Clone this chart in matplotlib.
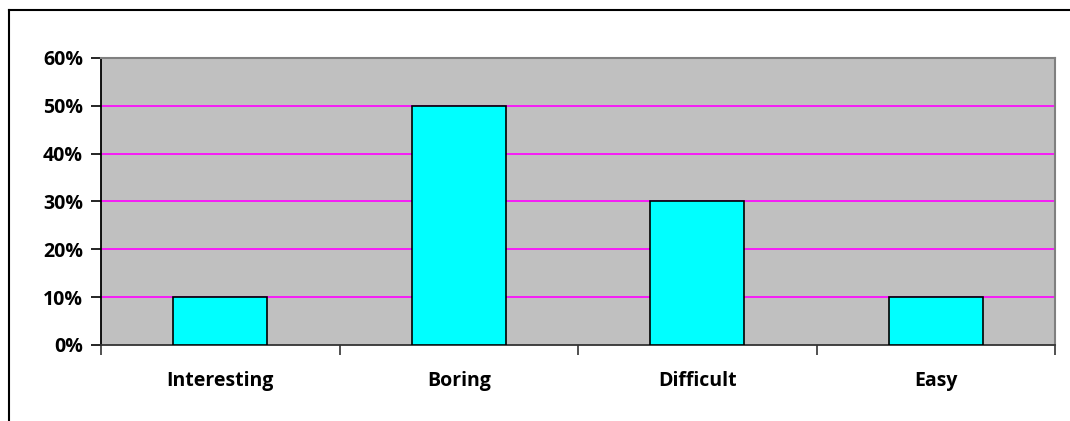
import numpy as np
import matplotlib
matplotlib.use("Agg")
import matplotlib.pyplot as plt
from matplotlib.lines import Line2D
from matplotlib.ticker import PercentFormatter

categories = ["Interesting", "Boring", "Difficult", "Easy"]
values = [10, 50, 30, 10]
yticks = [0, 10, 20, 30, 40, 50, 60]

plt.rcParams['font.family'] = ['Open Sans', 'DejaVu Sans']

W, H = 1070, 421
fig = plt.figure(figsize=(W/100, H/100), dpi=100)
ax = fig.add_axes([101/W, 1-345/H, (1055-101)/W, (345-58)/H])
ax.set_facecolor("#C0C0C0")

x = np.arange(len(categories))
ax.bar(x, values, width=0.395, color="#00FFFF", edgecolor="black", linewidth=1.2, zorder=3)

ax.set_xlim(-0.5, len(categories) - 0.5)
ax.set_ylim(0, 60)
ax.set_yticks(yticks)
ax.yaxis.set_major_formatter(PercentFormatter(decimals=0))
for t in yticks[1:-1]:
    ax.axhline(t, color="#FF00FF", linewidth=1.2, zorder=1)

# category boundary ticks below, labels centred
ax.set_xticks(np.arange(-0.5, len(categories)), minor=False)
ax.set_xticklabels([])
ax.set_xticks(x, minor=True)
ax.set_xticklabels(categories, minor=True)
ax.tick_params(axis="x", which="major", direction="out", length=7, width=1.2, color="#333333")
ax.tick_params(axis="x", which="minor", length=0, pad=19, labelsize=14)
ax.tick_params(axis="y", direction="out", length=7, width=1.2, labelsize=14, pad=6)
for lab in ax.get_xticklabels(minor=True) + ax.get_yticklabels():
    lab.set_fontweight("bold")

ax.spines["left"].set_color("black")
ax.spines["left"].set_linewidth(1.3)
ax.spines["bottom"].set_color("#333333")
ax.spines["bottom"].set_linewidth(1.3)
ax.spines["top"].set_color("#808080")
ax.spines["right"].set_color("#808080")
ax.spines["top"].set_linewidth(1.5)
ax.spines["right"].set_linewidth(1.5)

# outer chart border (top and left visible)
fig.add_artist(Line2D([9/W, 1], [1-10/H, 1-10/H], color="black", linewidth=1.5))
fig.add_artist(Line2D([9/W, 9/W], [0, 1-10/H], color="black", linewidth=1.5))

fig.savefig("out.png", dpi=100)
